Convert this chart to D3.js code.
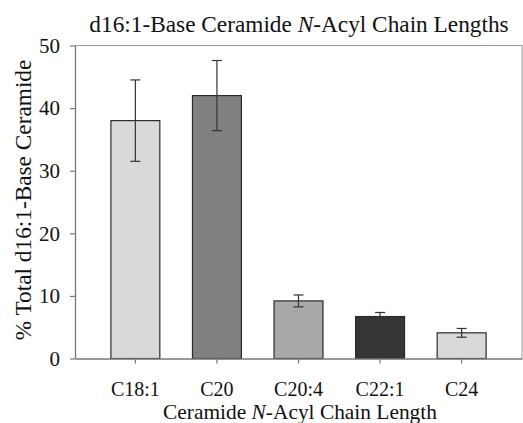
<!DOCTYPE html>
<html>
<head>
<meta charset="utf-8">
<script src="https://cdn.jsdelivr.net/npm/d3@7"></script>
<style>
  body { margin: 0; background: #fff; }
  text { font-family: "Liberation Serif", "Times New Roman", serif; fill: #111; }
</style>
</head>
<body>
<div id="chart"></div>
<script>
/* chart data */
var categories = ["C18:1", "C20", "C20:4", "C22:1", "C24"];
var values = [38.0, 42.0, 9.2, 6.7, 4.1];
var errors = [6.5, 5.6, 0.95, 0.65, 0.7];
var barColors = ["#d9d9d9", "#808080", "#a9a9a9", "#363636", "#d9d9d9"];
var yTicks = [0, 10, 20, 30, 40, 50];

var W = 523, H = 423;
var margin = { top: 45.5, right: 1, bottom: 64.5, left: 75 };
var width = W - margin.left - margin.right,
    height = H - margin.top - margin.bottom;

var svg = d3.select("#chart").append("svg")
    .attr("width", W)
    .attr("height", H);

var g = svg.append("g")
    .attr("transform", "translate(" + margin.left + "," + margin.top + ")");

var x = d3.scaleBand()
    .domain(categories)
    .range([0, width])
    .paddingInner(0.4)
    .paddingOuter(0.44);

var y = d3.scaleLinear()
    .domain([0, 50])
    .range([height, 0]);

/* frame top + right */
g.append("path")
    .attr("d", "M0,0H" + width + "V" + height)
    .attr("fill", "none")
    .attr("stroke", "#9a9a9a")
    .attr("stroke-width", 1);

/* bars */
g.selectAll("rect.bar")
    .data(values)
    .enter().append("rect")
    .attr("class", "bar")
    .attr("x", function(d, i) { return x(categories[i]); })
    .attr("y", function(d) { return y(d); })
    .attr("width", x.bandwidth())
    .attr("height", function(d) { return height - y(d); })
    .attr("fill", function(d, i) { return barColors[i]; })
    .attr("stroke", "#2a2a2a")
    .attr("stroke-width", 1.2);

/* error bars */
var capW = 5;
var eb = g.selectAll("g.err")
    .data(values)
    .enter().append("g")
    .attr("class", "err")
    .attr("stroke", "#333")
    .attr("stroke-width", 1.2);

eb.append("line")
    .attr("x1", function(d, i) { return x(categories[i]) + x.bandwidth() / 2; })
    .attr("x2", function(d, i) { return x(categories[i]) + x.bandwidth() / 2; })
    .attr("y1", function(d, i) { return y(d + errors[i]); })
    .attr("y2", function(d, i) { return y(d - errors[i]); });

eb.append("line")
    .attr("x1", function(d, i) { return x(categories[i]) + x.bandwidth() / 2 - capW; })
    .attr("x2", function(d, i) { return x(categories[i]) + x.bandwidth() / 2 + capW; })
    .attr("y1", function(d, i) { return y(d + errors[i]); })
    .attr("y2", function(d, i) { return y(d + errors[i]); });

eb.append("line")
    .attr("x1", function(d, i) { return x(categories[i]) + x.bandwidth() / 2 - capW; })
    .attr("x2", function(d, i) { return x(categories[i]) + x.bandwidth() / 2 + capW; })
    .attr("y1", function(d, i) { return y(d - errors[i]); })
    .attr("y2", function(d, i) { return y(d - errors[i]); });

/* y axis */
var yAxis = g.append("g")
    .call(d3.axisLeft(y).tickValues(yTicks).tickSize(5).tickSizeOuter(0).tickPadding(10));
yAxis.select(".domain").attr("stroke", "#777").attr("stroke-width", 1.3);
yAxis.selectAll(".tick line").attr("stroke", "#777").attr("stroke-width", 1.2);
yAxis.selectAll(".tick text")
    .style("font-family", "Liberation Serif")
    .style("font-size", "21px")
    .attr("fill", "#111");

/* x axis */
var xAxis = g.append("g")
    .attr("transform", "translate(0," + height + ")")
    .call(d3.axisBottom(x).tickSize(5).tickSizeOuter(0).tickPadding(18));
xAxis.select(".domain").attr("stroke", "#777").attr("stroke-width", 1.3);
xAxis.selectAll(".tick line").attr("stroke", "#777").attr("stroke-width", 1.2);
xAxis.selectAll(".tick text")
    .style("font-family", "Liberation Serif")
    .style("font-size", "20px")
    .attr("fill", "#111");

/* title */
var title = svg.append("text")
    .attr("x", 299)
    .attr("y", 32)
    .attr("text-anchor", "middle")
    .style("font-size", "23.3px");
title.append("tspan").text("d16:1-Base Ceramide ");
title.append("tspan").style("font-style", "italic").text("N");
title.append("tspan").text("-Acyl Chain Lengths");

/* x label */
var xl = svg.append("text")
    .attr("x", 300)
    .attr("y", 419)
    .attr("text-anchor", "middle")
    .style("font-size", "21.4px");
xl.append("tspan").text("Ceramide ");
xl.append("tspan").style("font-style", "italic").text("N");
xl.append("tspan").text("-Acyl Chain Length");

/* y label */
svg.append("text")
    .attr("transform", "translate(31,200) rotate(-90)")
    .attr("text-anchor", "middle")
    .style("font-size", "23.3px")
    .text("% Total d16:1-Base Ceramide");
</script>
</body>
</html>
